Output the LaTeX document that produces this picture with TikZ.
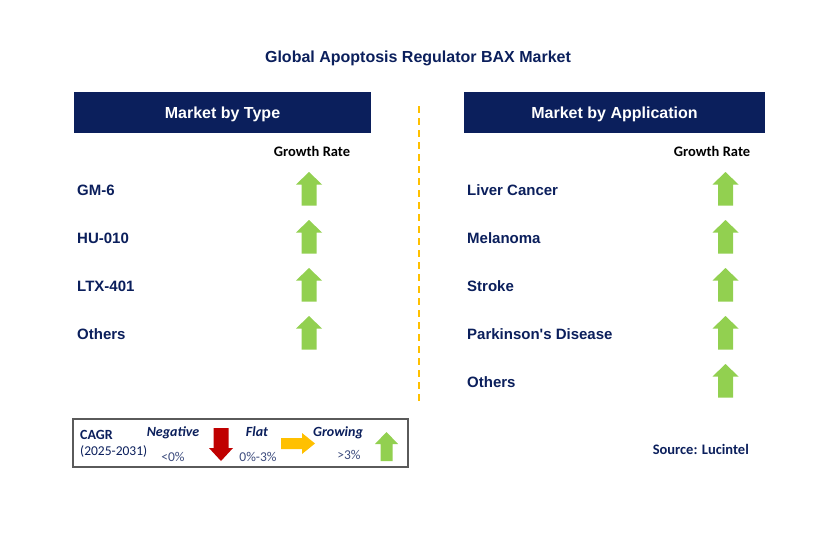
\documentclass[tikz,border=0pt]{standalone}
\usepackage{fontspec}
\setmainfont{Liberation Sans}
\newfontfamily\calibri{Carlito}

\definecolor{navy}{HTML}{0B1F5C}
\definecolor{slate}{HTML}{3D4C7E}
\definecolor{upgreen}{HTML}{92D050}
\definecolor{downred}{HTML}{C00000}
\definecolor{flatyellow}{HTML}{FFC000}
\definecolor{boxgray}{HTML}{5A5A5A}

% up arrow: #1 = x of centre, #2 = y of tip
\newcommand{\growarrow}[2]{%
  \fill[upgreen] (#1,#2) -- (#1+13,#2+12.5) -- (#1+7.5,#2+12.5) -- (#1+7.5,#2+33.5)
    -- (#1-7.5,#2+33.5) -- (#1-7.5,#2+12.5) -- (#1-13,#2+12.5) -- cycle;}

\begin{document}
\begin{tikzpicture}[x=1pt,y=-1pt]
        % Define the styles
        \tikzset{
          heading/.style={fill=navy, text=white, inner sep=0, minimum width=297, minimum height=40.5,
            font=\bfseries\fontsize{16}{19}\selectfont, text height=11.5, text depth=0},
          item/.style={anchor=west, inner sep=0, text=navy,
            font=\bfseries\fontsize{15}{18}\selectfont, text height=10.7, text depth=0},
          rate/.style={inner sep=0, text=black, font=\calibri\bfseries\fontsize{14.5}{17}\selectfont,
            text height=9.3, text depth=0},
          key/.style={inner sep=0, text=navy, font=\calibri\bfseries\fontsize{14}{17}\selectfont,
            text height=9, text depth=0},
          keyval/.style={inner sep=0, text=slate, font=\calibri\fontsize{13.5}{16}\selectfont,
            text height=9, text depth=0},
          legendname/.style={inner sep=0, text=navy, font=\calibri\bfseries\itshape\fontsize{14}{17}\selectfont,
            text height=9, text depth=0}
        }

        % Page
        \useasboundingbox[fill=white] (0,0) rectangle (829,533);

        % Title
        \node[inner sep=0, text=navy, font=\bfseries\fontsize{16}{19}\selectfont,
          text height=11.5, text depth=0] (title) at (418,57) {Global Apoptosis Regulator BAX Market};

        % Headings
        \node[heading] (type) at (222.5,112.5) {Market by Type};
        \node[heading, minimum width=301] (application) at (614.5,112.5) {Market by Application};

        % Divider
        \draw[flatyellow, line width=2, dash pattern=on 7 off 5] (419,106) -- (419,404);

        % Growth rate titles
        \node[rate] (typerate) at (312,151.5) {Growth Rate};
        \node[rate] (apprate) at (712,151.5) {Growth Rate};

        % Market by type
        \foreach \name/\y in {GM-6/190, HU-010/238, LTX-401/286, Others/334} {
          \node[item] (t\y) at (77,\y) {\name};
          \growarrow{309}{\y-18}
        }

        % Market by application
        \foreach \name/\y in {Liver Cancer/190, Melanoma/238, Stroke/286, Parkinson\textquotesingle s Disease/334, Others/382} {
          \node[item] (a\y) at (467,\y) {\name};
          \growarrow{725.5}{\y-18}
        }

        % Legend
        \draw[boxgray, line width=1.3] (73,419) rectangle (408,467);
        \node[key, anchor=west] (cagr) at (80,435) {CAGR};
        \node[keyval, anchor=west, text=navy] (years) at (80,450.5) {(2025-2031)};
        \node[legendname] (negative) at (173,432) {Negative};
        \node[keyval] (negval) at (173,456.5) {<0\%};
        \node[legendname] (flat) at (257,432) {Flat};
        \node[keyval] (flatval) at (258,456.5) {0\%-3\%};
        \node[legendname] (growing) at (338,432) {Growing};
        \node[keyval] (growval) at (349,455) {>3\%};
        \fill[downred] (221,461) -- (233,448) -- (228.5,448) -- (228.5,428) -- (213.5,428)
          -- (213.5,448) -- (209,448) -- cycle;
        \fill[flatyellow] (315,443.5) -- (302,433) -- (302,438) -- (281,438) -- (281,449)
          -- (302,449) -- (302,454) -- cycle;
        \fill[upgreen] (386.5,432) -- (398,444) -- (392.5,444) -- (392.5,461) -- (380.5,461)
          -- (380.5,444) -- (375,444) -- cycle;

        % Source
        \node[key, anchor=east, font=\calibri\bfseries\fontsize{14.5}{17}\selectfont] (source) at (749,450) {Source: Lucintel};
\end{tikzpicture}
\end{document}
